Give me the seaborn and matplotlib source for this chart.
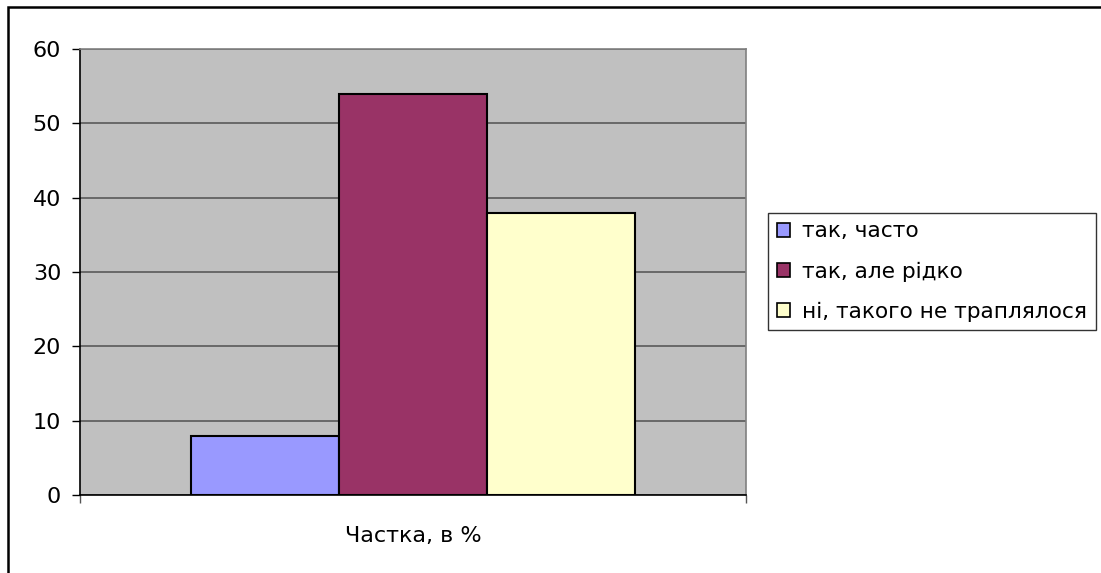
import matplotlib
matplotlib.use("Agg")
import matplotlib.pyplot as plt
import matplotlib.patches as mpatches
import seaborn as sns
import pandas as pd

# Survey data
category = "Частка, в %"
answers = ["так, часто", "так, але рідко", "ні, такого не траплялося"]
shares = [8, 54, 38]
colors = ["#9999FF", "#993366", "#FFFFCC"]
y_ticks = [0, 10, 20, 30, 40, 50, 60]

df = pd.DataFrame({"cat": [category] * len(answers), "answer": answers, "share": shares})

sns.set_theme(style="white")
plt.rcParams["font.family"] = ["DejaVu Sans"]

fig = plt.figure(figsize=(11.01, 5.73), dpi=100)
ax = fig.add_axes([80 / 1101, 1 - 495 / 573, 666 / 1101, 446 / 573])
ax.set_facecolor("#C0C0C0")

sns.barplot(data=df, x="cat", y="share", hue="answer", hue_order=answers,
            palette=colors, width=2 / 3, edgecolor="black", linewidth=1.5,
            saturation=1, ax=ax, legend=True)

ax.set_xlim(-0.5, 0.5)
ax.set_ylim(0, 60)
ax.set_yticks(y_ticks)
ax.set_yticklabels([str(v) for v in y_ticks], fontsize=16, color="black")
ax.yaxis.grid(True, color="#505050", linewidth=1.1)
ax.set_axisbelow(True)
ax.tick_params(axis="y", direction="out", length=5.5, width=1, color="black",
               left=True, pad=8)

# Category label plus boundary ticks at the edges of the category
ax.set_xticks([0])
ax.set_xticklabels([category], fontsize=16, color="black")
ax.tick_params(axis="x", length=0, pad=22)
ax.set_xticks([-0.5, 0.5], minor=True)
ax.tick_params(axis="x", which="minor", direction="out", length=6, width=1,
               color="#555555", bottom=True)
ax.set_xlabel("")
ax.set_ylabel("")

for side in ["top", "right"]:
    ax.spines[side].set_color("#808080")
    ax.spines[side].set_linewidth(1.2)
for side in ["left", "bottom"]:
    ax.spines[side].set_color("black")
    ax.spines[side].set_linewidth(1.2)

# Legend with square swatches
handles = [mpatches.Patch(facecolor=c, edgecolor="black", linewidth=1.2, label=a)
           for a, c in zip(answers, colors)]
ax.get_legend().remove()
leg = fig.legend(handles=handles, loc="center left",
                 bbox_to_anchor=(768 / 1101, 1 - 271.5 / 573),
                 frameon=True, fancybox=False, fontsize=15.6,
                 handlelength=0.6, handleheight=0.6, handletextpad=0.58,
                 labelspacing=0.92, borderpad=0.4, borderaxespad=0)
leg.get_frame().set_edgecolor("black")
leg.get_frame().set_linewidth(1)
for t in leg.get_texts():
    t.set_color("black")

# Chart border
fig.add_artist(mpatches.Rectangle((7.5 / 1101, -0.1), 1.2, 1.1 - 7 / 573,
                                  transform=fig.transFigure, fill=False,
                                  edgecolor="black", linewidth=1.8))

fig.savefig("out.png", dpi=100, facecolor="white")
